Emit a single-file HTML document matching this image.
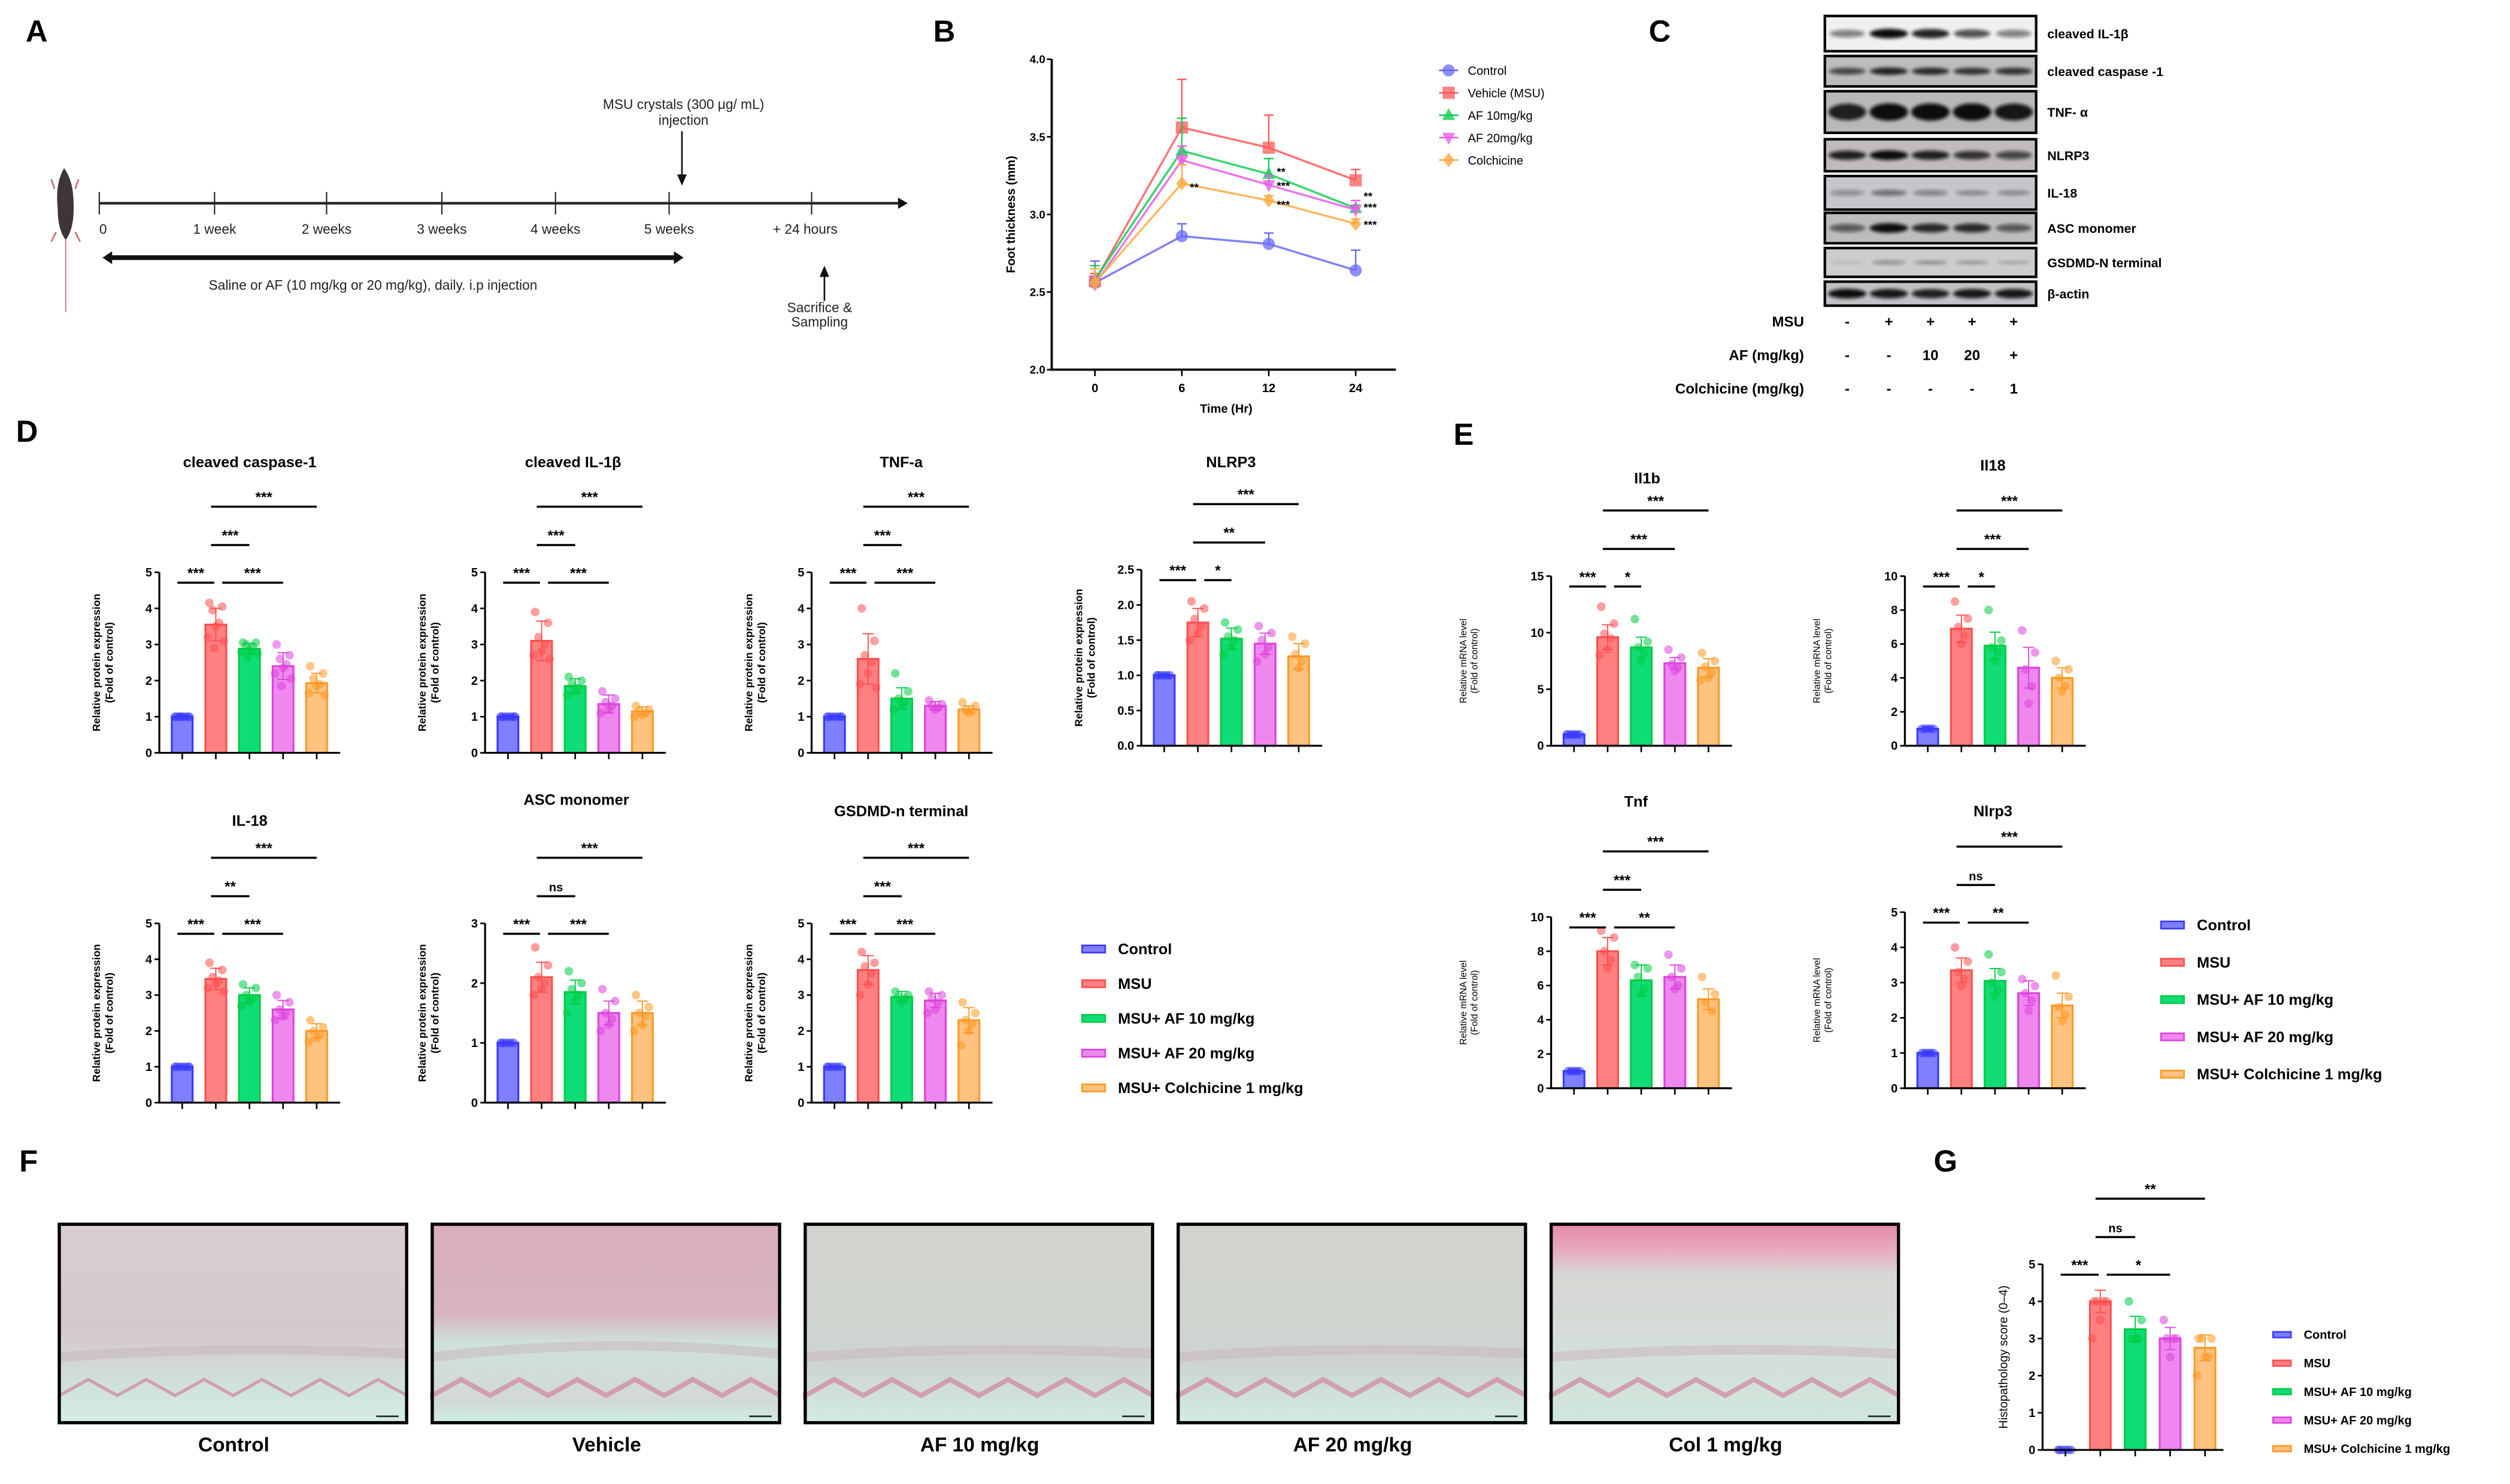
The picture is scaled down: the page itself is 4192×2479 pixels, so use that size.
<!DOCTYPE html>
<html><head><meta charset="utf-8"><style>
html,body{margin:0;padding:0;background:#fff;}
svg{display:block;font-family:"Liberation Sans",Arial,sans-serif;}
</style></head><body>
<svg id="fig" xmlns="http://www.w3.org/2000/svg" width="4192" height="2479" viewBox="0 0 1568 927.3">
<defs>
<filter id="blur" x="-20%" y="-50%" width="140%" height="200%"><feGaussianBlur stdDeviation="1.1"/></filter>
<linearGradient id="hc" x1="0" y1="0" x2="0" y2="1"><stop offset="0" stop-color="#d9cdd1"/><stop offset="0.55" stop-color="#d6c9cd"/><stop offset="0.78" stop-color="#cfdfd8"/><stop offset="1" stop-color="#d4eee4"/></linearGradient>
<linearGradient id="hv" x1="0" y1="0" x2="0" y2="1"><stop offset="0" stop-color="#d9aebe"/><stop offset="0.45" stop-color="#d8b3c0"/><stop offset="0.6" stop-color="#cfe2d9"/><stop offset="0.9" stop-color="#d2d8d6"/><stop offset="1" stop-color="#cdf0e2"/></linearGradient>
<linearGradient id="ha" x1="0" y1="0" x2="0" y2="1"><stop offset="0" stop-color="#d3d3cf"/><stop offset="0.7" stop-color="#cdd4cf"/><stop offset="1" stop-color="#d2ece2"/></linearGradient>
<linearGradient id="hcol" x1="0" y1="0" x2="0" y2="1"><stop offset="0" stop-color="#e48aa6"/><stop offset="0.12" stop-color="#e8a8bb"/><stop offset="0.25" stop-color="#d8d6d4"/><stop offset="1" stop-color="#d0e6dc"/></linearGradient>
</defs>
</svg>
<script>
const NS='http://www.w3.org/2000/svg';
const svg=document.getElementById('fig');
function mk(tag,attrs,parent,text){const e=document.createElementNS(NS,tag);for(const k in attrs)e.setAttribute(k,attrs[k]);if(text!==undefined)e.textContent=text;(parent||svg).appendChild(e);return e;}
function grp(parent){return mk('g',{},parent);}

// ---------- DATA ----------
const groupNames=['Control','MSU','MSU+ AF 10 mg/kg','MSU+ AF 20 mg/kg','MSU+ Colchicine 1 mg/kg'];
const fills=['#7f7fff','#ff8080','#11dd77','#ee88ee','#ffc27f'];
const strokes=['#3a3aff','#ff4f4f','#00cc44','#dd44dd','#ff9922'];

// Panel B line chart
const timeLabels=['0','6','12','24'];
const bSeries=['Control','Vehicle  (MSU)','AF 10mg/kg','AF 20mg/kg','Colchicine'];
const bControl=[2.56,2.86,2.81,2.64];
const bMSU=[2.57,3.56,3.43,3.22];
const bAF10=[2.58,3.41,3.26,3.04];
const bAF20=[2.55,3.35,3.19,3.03];
const bColch=[2.56,3.20,3.09,2.94];
const bErrControl=[0.14,0.08,0.07,0.13];
const bErrMSU=[0.05,0.31,0.21,0.07];
const bErrAF10=[0.09,0.21,0.10,0.02];
const bErrAF20=[0.05,0.09,0.06,0.06];
const bErrColch=[0.09,0.12,0.03,0.03];
const bTicks=[2.0,2.5,3.0,3.5,4.0];

// Bar charts (means, sd, points)
const capMean=[1,3.55,2.88,2.4,1.93], capSd=[0.04,0.45,0.14,0.37,0.27];
const capPts=[[1,1,1,1,1,1,1,1],[4.15,4.05,3.95,3.6,3.5,3.2,3.1,2.9],[3.05,3.05,3.0,2.95,2.85,2.8,2.75,2.65],[3.0,2.7,2.6,2.45,2.35,2.2,2.05,1.85],[2.4,2.2,2.05,1.9,1.85,1.65,1.6]];
const il1bMean=[1,3.1,1.85,1.35,1.15], il1bSd=[0.04,0.55,0.2,0.25,0.12];
const il1bPts=[[1,1,1,1,1,1,1],[3.9,3.6,3.2,3.0,2.8,2.7,2.6],[2.1,2.0,1.9,1.8,1.7,1.6],[1.7,1.5,1.4,1.3,1.2,1.1],[1.3,1.2,1.15,1.1,1.05,1.0]];
const tnfMean=[1,2.6,1.5,1.3,1.2], tnfSd=[0.04,0.7,0.3,0.12,0.1];
const tnfPts=[[1,1,1,1,1,1,1],[4.0,3.1,2.7,2.5,2.2,1.9,1.8],[2.2,1.7,1.5,1.4,1.3,1.2],[1.45,1.35,1.3,1.25,1.2],[1.4,1.3,1.2,1.15,1.1]];
const nlrpMean=[1,1.75,1.52,1.45,1.27], nlrpSd=[0.02,0.2,0.15,0.15,0.18];
const nlrpPts=[[1,1,1,1,1,1],[2.05,1.95,1.8,1.7,1.6,1.5],[1.75,1.65,1.55,1.5,1.4,1.3],[1.7,1.6,1.5,1.4,1.3,1.2],[1.55,1.45,1.3,1.2,1.1]];
const il18Mean=[1,3.45,3.0,2.6,2.0], il18Sd=[0.03,0.3,0.2,0.25,0.2];
const il18Pts=[[1,1,1,1,1,1,1],[3.9,3.7,3.5,3.4,3.3,3.2,3.1],[3.3,3.2,3.0,2.9,2.8,2.7],[3.0,2.8,2.6,2.5,2.4,2.3],[2.3,2.1,2.0,1.9,1.8,1.7]];
const ascMean=[1,2.1,1.85,1.5,1.5], ascSd=[0.02,0.25,0.2,0.2,0.2];
const ascPts=[[1,1,1,1,1,1],[2.6,2.3,2.1,2.0,1.9,1.8],[2.2,2.0,1.9,1.8,1.7,1.5],[1.9,1.7,1.5,1.4,1.3,1.2],[1.8,1.6,1.5,1.45,1.3,1.2]];
const gsdMean=[1,3.7,2.95,2.85,2.3], gsdSd=[0.03,0.4,0.15,0.2,0.35];
const gsdPts=[[1,1,1,1,1,1],[4.2,3.9,3.8,3.6,3.3,3.0],[3.1,3.0,2.95,2.9,2.8],[3.1,3.0,2.9,2.8,2.6,2.5],[2.8,2.5,2.3,2.2,2.0,1.6]];
const eIl1bMean=[1,9.6,8.7,7.3,6.9], eIl1bSd=[0.2,1.1,0.9,0.5,0.8];
const eIl1bPts=[[1,1,1,1,1,1],[12.3,10.8,9.9,9.5,8.5,8.0],[11.2,9.2,8.7,8.2,7.5],[8.5,7.8,7.2,6.9,6.6],[8.2,7.5,7.0,6.5,6.0,5.8]];
const eIl18Mean=[1,6.9,5.9,4.6,4.0], eIl18Sd=[0.1,0.8,0.8,1.2,0.6];
const eIl18Pts=[[1,1,1,1,1],[8.5,7.5,7.0,6.5,6.0],[8.0,6.2,5.8,5.5,5.0],[6.8,5.5,4.5,3.5,2.5],[5.0,4.5,4.0,3.5,3.2]];
const eTnfMean=[1,8.0,6.3,6.5,5.2], eTnfSd=[0.1,0.8,0.9,0.7,0.6];
const eTnfPts=[[1,1,1,1,1],[9.2,8.8,8.0,7.5,7.0],[7.2,7.0,6.5,5.8,5.5],[7.8,7.0,6.5,6.0,5.8],[6.5,5.5,5.0,4.5]];
const eNlrMean=[1,3.35,3.05,2.7,2.35], eNlrSd=[0.05,0.35,0.35,0.35,0.35];
const eNlrPts=[[1,1,1,1,1],[4.0,3.6,3.3,3.1,2.9],[3.8,3.3,3.0,2.8,2.6],[3.1,2.9,2.7,2.5,2.2],[3.2,2.6,2.3,2.1,1.9]];
const gMean=[0,4.0,3.25,3.0,2.75], gSd=[0,0.3,0.35,0.3,0.35];
const gPts=[[0,0,0,0,0,0],[4,4,4,4,3.5,3],[4,3.5,3,3,3],[3.5,3,3,3,2.5],[3,3,3,2.5,2.5,2]];

// ---------- PANEL LABELS ----------
[['A',16,26],['B',583,26],['C',1030,26],['D',10,276],['E',908,278],['F',12,732],['G',1208,732]].forEach(p=>{
 const t=mk('text',{x:p[1],y:p[2],'font-size':19,'font-weight':'bold'},svg,p[0]);
 
 
});

// ---------- PANEL A ----------
(function(){
 const g=grp();
 
 
 const m=mk('path',{d:'M40 105 C36 112 35 120 36 130 C36 140 38 146 41 150 C44 146 46 140 46 130 C46 120 45 112 40 105 Z',fill:'#3e3636'},g);
 
 
 mk('path',{d:'M41 150 L41 195',stroke:'#c06060','stroke-width':0.6,fill:'none'},g);
 mk('path',{d:'M34 118 L32 112 M47 118 L49 112 M35 145 L32 151 M47 145 L50 151',stroke:'#c07070','stroke-width':1},g);
 const ln=mk('line',{x1:62,y1:127,x2:562,y2:127,stroke:'#222','stroke-width':1.6},g);
 
 
 mk('path',{d:'M561 123.5 L567 127 L561 130.5 Z',fill:'#111'},g);
 const tx=[62,134,204,276,347,418,507];
 const tl=['0','1 week','2  weeks','3  weeks','4  weeks','5  weeks','+ 24 hours'];
 tx.forEach((x,i)=>{
  mk('line',{x1:x,y1:120,x2:x,y2:134,stroke:'#222','stroke-width':0.8},g);
  const t=mk('text',{x:i==0?x:x+(i==6?-4:0),y:146,'font-size':8.5,'text-anchor':i==0?'start':'middle',fill:'#222'},g,tl[i]);
  
  
 });
 mk('line',{x1:68,y1:161,x2:423,y2:161,stroke:'#111','stroke-width':3},g);
 mk('path',{d:'M64 161 L70 157 L70 165 Z M427 161 L421 157 L421 165 Z',fill:'#111'},g);
 const t1=mk('text',{x:233,y:181,'font-size':8.5,'text-anchor':'middle',fill:'#222'},g,'Saline or AF (10 mg/kg or 20 mg/kg), daily.  i.p injection');
 
 
 const t2=mk('text',{x:427,y:68,'font-size':8.5,'text-anchor':'middle',fill:'#222'},g,'MSU  crystals (300 μg/ mL)');
 
 
 mk('text',{x:427,y:78,'font-size':8.5,'text-anchor':'middle',fill:'#222'},g,'injection');
 mk('line',{x1:426,y1:82,x2:426,y2:110,stroke:'#111','stroke-width':1},g);
 mk('path',{d:'M423 109 L426 116 L429 109 Z',fill:'#111'},g);
 mk('line',{x1:515,y1:172,x2:515,y2:188,stroke:'#111','stroke-width':1},g);
 mk('path',{d:'M512 173 L515 166 L518 173 Z',fill:'#111'},g);
 const t3=mk('text',{x:512,y:195,'font-size':8.5,'text-anchor':'middle',fill:'#222'},g,'Sacrifice &');
 
 
 mk('text',{x:512,y:204,'font-size':8.5,'text-anchor':'middle',fill:'#222'},g,'Sampling');
})();

// ---------- PANEL B ----------
(function(){
 const g=grp();
 
 
 const X0=657,Yt=37,Yb=231,ymin=2,ymax=4;
 const y=v=>Yb-(v-ymin)/(ymax-ymin)*(Yb-Yt);
 const xs=i=>684+i*54.3;
 const series=[bControl,bMSU,bAF10,bAF20,bColch];
 const errs=[bErrControl,bErrMSU,bErrAF10,bErrAF20,bErrColch];
 const cols=['#6a6aff','#ff5a5a','#14cc55','#e85ee8','#ffaa44'];
 mk('line',{x1:X0,y1:Yt,x2:X0,y2:Yb,stroke:'#000','stroke-width':1.4},g);
 mk('line',{x1:X0-1,y1:Yb,x2:872,y2:Yb,stroke:'#000','stroke-width':1.4},g);
 bTicks.forEach(v=>{
  mk('line',{x1:X0-3,y1:y(v),x2:X0,y2:y(v),stroke:'#000','stroke-width':1},g);
  const t=mk('text',{x:X0-4,y:y(v)+2.5,'font-size':7,'text-anchor':'end','font-weight':'bold'},g,v.toFixed(1));
  
  
 });
 timeLabels.forEach((l,i)=>{
  mk('line',{x1:xs(i),y1:Yb,x2:xs(i),y2:Yb+4,stroke:'#000','stroke-width':1},g);
  const t=mk('text',{x:xs(i),y:Yb+14,'font-size':7.5,'text-anchor':'middle','font-weight':'bold'},g,l);
  
  
 });
 const yt=mk('text',{transform:`translate(634,${(Yt+Yb)/2}) rotate(-90)`,'font-size':7.5,'text-anchor':'middle','font-weight':'bold'},g,'Foot thickness (mm)');
 
 
 const xt=mk('text',{x:766,y:258,'font-size':7.5,'text-anchor':'middle','font-weight':'bold'},g,'Time (Hr)');
 
 
 function marker(k,cx,cy,parent,col){
  let e;
  if(k==0)e=mk('circle',{cx:cx,cy:cy,r:3.8,fill:col,'fill-opacity':0.75},parent);
  else if(k==1)e=mk('rect',{x:cx-3.8,y:cy-3.8,width:7.6,height:7.6,fill:col,'fill-opacity':0.75},parent);
  else if(k==2)e=mk('path',{d:`M${cx} ${cy-4.5} L${cx+4} ${cy+3} L${cx-4} ${cy+3} Z`,fill:col,'fill-opacity':0.8},parent);
  else if(k==3)e=mk('path',{d:`M${cx} ${cy+4.5} L${cx+4} ${cy-3} L${cx-4} ${cy-3} Z`,fill:col,'fill-opacity':0.8},parent);
  else e=mk('path',{d:`M${cx} ${cy-4.5} L${cx+3.6} ${cy} L${cx} ${cy+4.5} L${cx-3.6} ${cy} Z`,fill:col,'fill-opacity':0.8},parent);
  return e;
 }
 series.forEach((s,k)=>{
  const sg=grp(g);
  
  
  mk('polyline',{points:s.map((v,i)=>xs(i)+','+y(v)).join(' '),fill:'none',stroke:cols[k],'stroke-width':1.3,'stroke-opacity':0.85},sg);
  s.forEach((v,i)=>{
   const e=errs[k][i];
   mk('line',{x1:xs(i),y1:y(v),x2:xs(i),y2:y(v+e),stroke:cols[k],'stroke-width':0.9},sg);
   mk('line',{x1:xs(i)-3,y1:y(v+e),x2:xs(i)+3,y2:y(v+e),stroke:cols[k],'stroke-width':0.9},sg);
   const p=marker(k,xs(i),y(v),sg,cols[k]);
   
   
  });
 });
 const stars=[[1,4,'**'],[2,2,'**'],[2,3,'***'],[2,4,'***'],[3,2,'**'],[3,3,'***'],[3,4,'***']];
 stars.forEach(s=>{
  const dy={2:-2,3:0,4:2}[s[1]];
  const yy=s[0]==3?(s[1]==2?y(bAF10[3])-5:s[1]==3?y(bAF20[3])+1:y(bColch[3])+3):y(series[s[1]][s[0]])+dy+3;
  const t=mk('text',{x:xs(s[0])+5,y:yy,'font-size':7,'font-weight':'bold'},g,s[2]);
  
  
 });
 bSeries.forEach((n,k)=>{
  const ly=44+k*14;
  mk('line',{x1:899,y1:ly,x2:911,y2:ly,stroke:cols[k],'stroke-width':1},g);
  marker(k,905,ly,g,cols[k]);
  const t=mk('text',{x:917,y:ly+2.8,'font-size':7.5},g,n);
  
  
 });
})();

// ---------- PANEL C ----------
(function(){
 const g=grp();
 
 
 const lanes=[1154,1180,1206,1232,1258];
 const rows=[
  ['cleaved IL-1β',10,32,'#f0f0f0',[0.5,1,0.9,0.7,0.5],5],
  ['cleaved caspase -1',35,54,'#bcbcbc',[0.7,0.9,0.85,0.8,0.8],4],
  ['TNF- α',57,83,'#b8b8b8',[0.9,1,1,1,0.95],9],
  ['NLRP3',87,107,'#c0bcbc',[0.9,1,0.9,0.8,0.7],5],
  ['IL-18',110,131,'#c8c6cc',[0.35,0.5,0.4,0.3,0.3],4],
  ['ASC monomer',133,152,'#bdbdbd',[0.6,1,0.85,0.85,0.6],5],
  ['GSDMD-N terminal',155,173,'#cdcdcd',[0.1,0.35,0.3,0.25,0.2],3],
  ['β-actin',176,191,'#c2c2c6',[1,0.95,0.9,0.95,0.95],5]
 ];
 rows.forEach(r=>{
  const rg=grp(g);
  
  
  mk('rect',{x:1140,y:r[1],width:132,height:r[2]-r[1],fill:r[3],stroke:'#000','stroke-width':1.6},rg);
  const cy=(r[1]+r[2])/2;
  lanes.forEach((lx,i)=>{
   const b=mk('ellipse',{cx:lx,cy:cy,rx:10+r[4][i]*2,ry:r[5]/2*(0.7+0.5*r[4][i]),fill:'#111','fill-opacity':r[4][i],filter:'url(#blur)'},rg);
   
   
  });
  const t=mk('text',{x:1279,y:cy+3,'font-size':8,'font-weight':'bold'},rg,r[0]);
  
  
 });
 const cond=[['MSU',204,['-','+','+','+','+']],['AF (mg/kg)',225,['-','-','10','20','+']],['Colchicine (mg/kg)',246,['-','-','-','-','1']]];
 cond.forEach(c=>{
  const t=mk('text',{x:1127,y:c[1],'font-size':9,'font-weight':'bold','text-anchor':'end'},g,c[0]);
  
  
  c[2].forEach((s,i)=>mk('text',{x:lanes[i],y:c[1],'font-size':9,'font-weight':'bold','text-anchor':'middle'},g,s));
 });
})();

// ---------- BAR CHART ----------
function barChart(o,means,sds,pts,ticks,brackets){
 const g=grp();
 
 
 const y=v=>o.bot-v/o.ymax*(o.bot-o.top);
 const sp=o.sp||21;
 const cx=i=>o.xa+14.3+i*sp;
 const jit=[-4,4,-2,2,0,-5,5,-1,3];
 means.forEach((m,i)=>{
  const b=mk('rect',{x:cx(i)-6.5,y:y(m),width:13,height:Math.max(o.bot-y(m),0.01),fill:fills[i],stroke:strokes[i],'stroke-width':1.2},g);
  
  
  mk('line',{x1:cx(i),y1:y(m-sds[i]),x2:cx(i),y2:y(m+sds[i]),stroke:strokes[i],'stroke-width':0.7},g);
  mk('line',{x1:cx(i)-3.5,y1:y(m+sds[i]),x2:cx(i)+3.5,y2:y(m+sds[i]),stroke:strokes[i],'stroke-width':0.7},g);
  mk('line',{x1:cx(i)-3.5,y1:y(m-sds[i]),x2:cx(i)+3.5,y2:y(m-sds[i]),stroke:strokes[i],'stroke-width':0.7},g);
  pts[i].forEach((v,j)=>{
   const p=mk('circle',{cx:cx(i)+jit[j%9]*(i==0?0.9:1),cy:y(v),r:2.7,fill:strokes[i],'fill-opacity':0.55},g);
   
   
  });
 });
 mk('line',{x1:o.xa,y1:o.top,x2:o.xa,y2:o.bot,stroke:'#000','stroke-width':1.2},g);
 mk('line',{x1:o.xa-1,y1:o.bot,x2:o.xa+113,y2:o.bot,stroke:'#000','stroke-width':1.2},g);
 means.forEach((m,i)=>mk('line',{x1:cx(i),y1:o.bot,x2:cx(i),y2:o.bot+4,stroke:'#000','stroke-width':1},g));
 ticks.forEach(v=>{
  mk('line',{x1:o.xa-3,y1:y(v),x2:o.xa,y2:y(v),stroke:'#000','stroke-width':1},g);
  const t=mk('text',{x:o.xa-4.5,y:y(v)+2.6,'font-size':7.5,'font-weight':'bold','text-anchor':'end'},g,o.dec?v.toFixed(1):String(v));
  
  
 });
 if(o.title){
  const t=mk('text',{x:o.tx,y:o.ty,'font-size':9.5,'font-weight':'bold','text-anchor':'middle'},g,o.title);
  
  
 }
 const mid=(o.top+o.bot)/2;
 const lb=o.mrna;
 if(o.ylab){
  const l1=mk('text',{transform:`translate(${o.xa-(lb?53:37)},${mid}) rotate(-90)`,'font-size':lb?5.8:6.6,'font-weight':lb?'normal':'bold','text-anchor':'middle'},g,o.ylab);
  
  
  mk('text',{transform:`translate(${o.xa-(lb?46:29)},${mid}) rotate(-90)`,'font-size':lb?5.8:6.6,'font-weight':lb?'normal':'bold','text-anchor':'middle'},g,'(Fold of control)');
 }
 const L=[o.top+6.5,o.top-17,o.top-41];
 brackets.forEach(b=>{
  const xa1=b[0]==0?cx(0)-3:cx(b[0])+(b[2]==0&&b.length>4?4:-3);
  const xb=cx(b[1])+(b[0]==0?-1:0);
  const yy=L[b[2]];
  const bl=mk('line',{x1:xa1,y1:yy,x2:xb,y2:yy,stroke:'#000','stroke-width':1.3},g);
  
  
  const st=mk('text',{x:(xa1+xb)/2,y:yy-3,'font-size':b[3]=='ns'?7.5:9,'font-weight':'bold','text-anchor':'middle'},g,b[3]);
  
  
 });
}
const PE='Relative protein expression', MR='Relative mRNA level';
const t5=[0,1,2,3,4,5];
barChart({name:'chart-cleaved-caspase-1',xa:99.5,top:357.6,bot:470.4,ymax:5,title:'cleaved caspase-1',tx:156,ty:292,ylab:PE},capMean,capSd,capPts,t5,
 [[0,1,0,'***'],[1,3,0,'***',1],[1,2,1,'***'],[1,4,2,'***']]);
barChart({name:'chart-cleaved-il-1b',xa:303,top:357.6,bot:470.4,ymax:5,title:'cleaved IL-1β',tx:358,ty:292,ylab:PE},il1bMean,il1bSd,il1bPts,t5,
 [[0,1,0,'***'],[1,3,0,'***',1],[1,2,1,'***'],[1,4,2,'***']]);
barChart({name:'chart-tnf-a',xa:507,top:357.6,bot:470.4,ymax:5,title:'TNF-a',tx:563,ty:292,ylab:PE},tnfMean,tnfSd,tnfPts,t5,
 [[0,1,0,'***'],[1,3,0,'***',1],[1,2,1,'***'],[1,4,2,'***']]);
barChart({name:'chart-nlrp3-protein',xa:713,top:356,bot:466,ymax:2.5,dec:1,title:'NLRP3',tx:769,ty:292,ylab:PE},nlrpMean,nlrpSd,nlrpPts,[0,0.5,1,1.5,2,2.5],
 [[0,1,0,'***'],[1,2,0,'*',1],[1,3,1,'**'],[1,4,2,'***']]);
barChart({name:'chart-il-18-protein',xa:99.5,top:577,bot:689,ymax:5,title:'IL-18',tx:156,ty:516,ylab:PE},il18Mean,il18Sd,il18Pts,t5,
 [[0,1,0,'***'],[1,3,0,'***',1],[1,2,1,'**'],[1,4,2,'***']]);
barChart({name:'chart-asc-monomer',xa:303,top:577,bot:689,ymax:3,title:'ASC monomer',tx:360,ty:503,ylab:PE},ascMean,ascSd,ascPts,[0,1,2,3],
 [[0,1,0,'***'],[1,3,0,'***',1],[1,2,1,'ns'],[1,4,2,'***']]);
barChart({name:'chart-gsdmd-n-terminal',xa:507,top:577,bot:689,ymax:5,title:'GSDMD-n terminal',tx:563,ty:510,ylab:PE},gsdMean,gsdSd,gsdPts,t5,
 [[0,1,0,'***'],[1,3,0,'***',1],[1,2,1,'***'],[1,4,2,'***']]);
barChart({name:'chart-il1b-mrna',xa:969,top:360,bot:466,ymax:15,title:'Il1b',tx:1029,ty:302,ylab:MR,mrna:1},eIl1bMean,eIl1bSd,eIl1bPts,[0,5,10,15],
 [[0,1,0,'***'],[1,2,0,'*',1],[1,3,1,'***'],[1,4,2,'***']]);
barChart({name:'chart-il18-mrna',xa:1190,top:360,bot:466,ymax:10,title:'Il18',tx:1245,ty:294,ylab:MR,mrna:1},eIl18Mean,eIl18Sd,eIl18Pts,[0,2,4,6,8,10],
 [[0,1,0,'***'],[1,2,0,'*',1],[1,3,1,'***'],[1,4,2,'***']]);
barChart({name:'chart-tnf-mrna',xa:969,top:573,bot:680,ymax:10,title:'Tnf',tx:1022,ty:504,ylab:MR,mrna:1},eTnfMean,eTnfSd,eTnfPts,[0,2,4,6,8,10],
 [[0,1,0,'***'],[1,3,0,'**',1],[1,2,1,'***'],[1,4,2,'***']]);
barChart({name:'chart-nlrp3-mrna',xa:1190,top:570,bot:680,ymax:5,title:'Nlrp3',tx:1245,ty:510,ylab:MR,mrna:1},eNlrMean,eNlrSd,eNlrPts,t5,
 [[0,1,0,'***'],[1,3,0,'**',1],[1,2,1,'ns'],[1,4,2,'***']]);

// G
(function(){
 barChart({name:'chart-histopathology-score',xa:1276,top:790,bot:906,ymax:5,title:'',tx:0,ty:0,ylab:'',sp:21.8},gMean,gSd,gPts,t5,
  [[0,1,0,'***'],[1,3,0,'*',1],[1,2,1,'ns'],[1,4,2,'**']]);
 const t=mk('text',{transform:'translate(1254,848) rotate(-90)','font-size':7.5,'text-anchor':'middle'},svg,'Histopathology score (0–4)');
 
 
})();

// Legends
function legend(x,y0,dy,fs,sw,name){
 const g=grp();
 
 
 groupNames.forEach((n,i)=>{
  mk('rect',{x:x,y:y0+i*dy-sw/2,width:sw*3.2,height:sw,fill:fills[i],stroke:strokes[i],'stroke-width':1},g);
  const t=mk('text',{x:x+sw*3.2+8,y:y0+i*dy+fs*0.35,'font-size':fs,'font-weight':'bold'},g,n);
  
  
 });
}
legend(676,593,21.7,9.5,4.5,'legend-protein');
legend(1350,578,23.3,9.5,4.5,'legend-mrna');
legend(1420,834,17.8,7.5,3.5,'legend-histology');

// ---------- PANEL F ----------
(function(){
 const xs=[37,270,503,736,969];
 const labs=['Control','Vehicle','AF 10 mg/kg','AF 20 mg/kg','Col 1 mg/kg'];
 const grads=['hc','hv','ha','ha','hcol'];
 xs.forEach((x,i)=>{
  const g=grp();
  
  
  mk('rect',{x:x,y:765,width:217,height:124,fill:'url(#'+grads[i]+')'},g);
  let d=`M${x} ${870}`;
  for(let k=0;k<=12;k++){const px=x+k*18.1;d+=` L${px} ${k%2?862:872}`;}
  mk('path',{d:d,fill:'none',stroke:'#cf8fa6','stroke-width':i==0?2:3,'stroke-opacity':0.8},g);
  mk('path',{d:`M${x} 848 Q ${x+108} ${i==1?835:840} ${x+217} 846`,fill:'none',stroke:'#c9b4bc','stroke-width':6,'stroke-opacity':0.5},g);
  mk('rect',{x:x,y:765,width:217,height:124,fill:'none',stroke:'#000','stroke-width':2},g);
  mk('line',{x1:x+198,y1:885,x2:x+212,y2:885,stroke:'#222','stroke-width':1},g);
  const t=mk('text',{x:x+109,y:907,'font-size':12.5,'font-weight':'bold','text-anchor':'middle'},svg,labs[i]);
  
  
 });
})();
</script>
</body></html>
